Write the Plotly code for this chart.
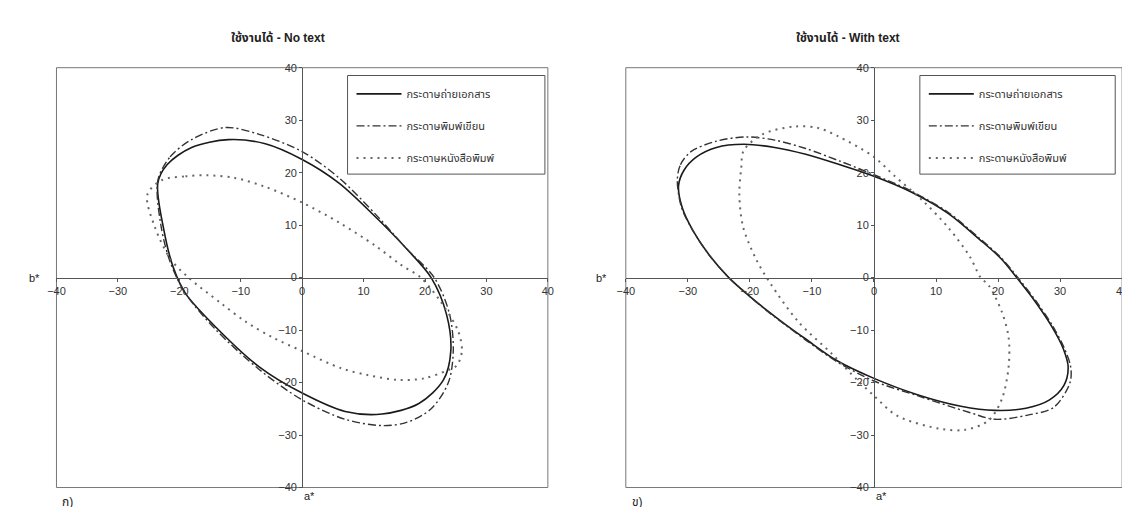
import plotly.graph_objects as go

# ---------------- data (a*, b*) ----------------
series_names = ["กระดาษถ่ายเอกสาร", "กระดาษพิมพ์เขียน", "กระดาษหนังสือพิมพ์"]
panel_titles = ["ใช้งานได้ - No text", "ใช้งานได้ - With text"]
panel_tags = ["ก)", "ข)"]
tick_vals = [-40, -30, -20, -10, 0, 10, 20, 30, 40]

# Panel 1 - No text
nt_copy_a = [-23.5, -22, -18, -12, -6, 0, 6, 12, 17, 21, 23.5, 24.2, 23, 19, 13, 7, 0, -7, -14, -19, -21, -22.5, -23.5]
nt_copy_b = [18, 21.5, 24.8, 26.3, 25.5, 22.5, 18, 11.5, 5.5, 0, -7, -14, -19.5, -24, -26, -25.5, -22, -17, -9.5, -3, 2, 9, 18]
nt_write_a = [-23.5, -21.5, -18, -12.5, -7, 0, 6, 12, 17, 21.5, 24, 24.6, 23.8, 21, 17, 13, 7, 0, -7, -14, -19, -21.5, -23, -23.5]
nt_write_b = [18.5, 23, 26.3, 28.6, 27.3, 24, 19, 12, 5.5, 0, -7, -14, -20, -25, -27.6, -28.2, -27, -23.3, -17.5, -10, -3, 3, 10, 18.5]
nt_news_a = [-22.8, -19, -15.5, -11, -6, 0, 6, 12, 16, 19.3, 22.5, 25.4, 26, 25.2, 23.6, 19.8, 15.6, 10.8, 6.4, 0, -4.8, -9.2, -13.3, -18.5, -21.4, -24, -25.2, -22.8]
nt_news_b = [18.6, 19.3, 19.5, 19, 17.3, 14.3, 10.5, 6, 2.5, 0, -4.5, -10.2, -14, -16.7, -17.7, -19.2, -19.5, -18.6, -17.3, -14, -11.4, -8.4, -4.8, 0, 3.5, 9.7, 15.8, 18.6]

# Panel 2 - With text
wt_copy_a = [-31.5, -30.6, -28.6, -25.4, -21, -16, -11, -5.5, 0, 6, 12, 17, 20.5, 23, 26, 28.6, 30.5, 31.3, 30.6, 28.3, 24.5, 19.5, 14, 7, 0, -6, -11, -14.3, -17.4, -20.5, -23.4, -26.5, -29.2, -30.9, -31.5]
wt_copy_b = [17.5, 20.5, 23, 24.8, 25.4, 24.8, 23.5, 21.5, 19.3, 16.3, 12.2, 7.3, 3.6, 0, -4.6, -9.2, -13.5, -17, -20.6, -23.3, -24.9, -25.3, -24.5, -22.3, -19.2, -15.8, -11.7, -8.9, -6.1, -3.1, 0, 4.2, 9, 13.3, 17.5]
wt_write_a = [-31.7, -31.2, -29.5, -25.4, -20.6, -16, -11, -5.5, 0, 6, 12, 17, 20.5, 23.2, 26.2, 28.8, 30.7, 31.7, 31.6, 29, 24.8, 19.5, 15.4, 7, 0, -6, -11, -14.3, -17.4, -20.5, -23.4, -26.5, -29.2, -31, -31.7]
wt_write_b = [18.5, 21.5, 24, 26, 26.8, 26.2, 24.6, 22.2, 19.6, 16.5, 12.4, 7.5, 3.8, 0, -4.6, -9.2, -13.5, -17, -20, -24.7, -26.2, -27, -25.7, -22.5, -19.7, -16, -11.9, -9, -6.2, -3.1, 0, 4.2, 9, 13.3, 18.5]
wt_news_a = [-21, -18, -12.7, -9, -5.9, 0, 3.2, 8, 12, 15.4, 17.2, 18.5, 20.6, 21.7, 21.7, 20.6, 18.5, 14.7, 10.6, 3.7, 0, -2.7, -6.8, -12.2, -16.7, -19, -21.1, -21.7, -21.4, -21]
wt_news_b = [24.2, 27.3, 28.8, 28.5, 27, 23, 19.5, 14.5, 9.5, 4.1, 0, -1.5, -6.5, -11.4, -17, -23.2, -27.2, -29, -28.8, -26.3, -22.5, -19.5, -14.5, -8.4, -1.1, 3.5, 9.7, 15.8, 20.8, 24.2]

panels = [
    [(nt_copy_a, nt_copy_b), (nt_write_a, nt_write_b), (nt_news_a, nt_news_b)],
    [(wt_copy_a, wt_copy_b), (wt_write_a, wt_write_b), (wt_news_a, wt_news_b)],
]

# ---------------- styling ----------------
W, H = 1130, 507
FONT = "Arial, 'Liberation Sans', 'Noto Sans Thai', 'Noto Sans', sans-serif"
line_styles = [
    dict(color="#1a1a1a", width=1.6, dash="solid"),
    dict(color="#333333", width=1.4, dash="8px,3px,2px,3px"),
    dict(color="#666666", width=2.0, dash="2px,5px"),
]
x_domains = [[40 / W, 538 / W], [617 / W, 1120 / W]]
y_domain = [1 - 485 / H, 1 - 55 / H]
y_mid = (y_domain[0] + y_domain[1]) / 2
legend_box_x = [(335, 535), (915, 1113)]
legend_box_y = (63, 164)
title_x = [265 / W, 842 / W]
bstar_x = [18 / W, 592 / W]

fig = go.Figure()
layout = dict(
    width=W, height=H, autosize=False,
    margin=dict(l=0, r=0, t=0, b=0),
    paper_bgcolor="white", plot_bgcolor="white",
    font=dict(family=FONT, size=11, color="#333333"),
    showlegend=True,
)
shapes, annotations = [], []

for p, panel in enumerate(panels):
    xa = "x" if p == 0 else "x2"
    ya = "y" if p == 0 else "y2"
    leg = "legend" if p == 0 else "legend2"
    for s, (a, b) in enumerate(panel):
        fig.add_trace(go.Scatter(
            x=a, y=b, mode="lines", name=series_names[s],
            line=dict(shape="spline", smoothing=0.9, **line_styles[s]),
            xaxis=xa, yaxis=ya, legend=leg, legendgroup=f"g{p}{s}",
            hoverinfo="skip",
        ))
    x_mid = (x_domains[p][0] + x_domains[p][1]) / 2
    axis_common = dict(
        range=[-40, 40], tickvals=tick_vals, showgrid=False, zeroline=False,
        showline=True, linecolor="#555555", linewidth=1,
        ticks="outside", ticklen=3, tickcolor="#555555",
        tickfont=dict(size=11, color="#333333"), anchor="free", fixedrange=True,
    )
    layout["xaxis" if p == 0 else "xaxis2"] = dict(
        domain=x_domains[p], position=y_mid, side="bottom", **axis_common)
    layout["yaxis" if p == 0 else "yaxis2"] = dict(
        domain=y_domain, position=x_mid, side="left", **axis_common)
    bx0, bx1 = legend_box_x[p]
    layout[leg] = dict(
        x=(bx0 + 4) / W, y=1 - (legend_box_y[0] + 4) / H, xanchor="left", yanchor="top",
        bgcolor="rgba(0,0,0,0)", borderwidth=0,
        font=dict(size=11, color="#333333", family=FONT),
        tracegroupgap=13, traceorder="grouped", itemwidth=45,
    )
    shapes.append(dict(type="rect", xref=f"{xa} domain", yref=f"{ya} domain",
                       x0=0, x1=1, y0=0, y1=1,
                       line=dict(color="#777777", width=1), layer="below"))
    shapes.append(dict(type="rect", xref="paper", yref="paper",
                       x0=bx0 / W, x1=bx1 / W,
                       y0=1 - legend_box_y[1] / H, y1=1 - legend_box_y[0] / H,
                       fillcolor="white", line=dict(color="#555555", width=1), layer="above"))
    annotations.append(dict(text=f"<b>{panel_titles[p]}</b>", xref="paper", yref="paper",
                            x=title_x[p], y=1 - 25 / H, showarrow=False,
                            font=dict(size=12, color="#222222"),
                            xanchor="center", yanchor="middle"))
    annotations.append(dict(text="b*", xref="paper", yref=ya,
                            x=bstar_x[p], y=0, showarrow=False,
                            xanchor="center", yanchor="middle",
                            font=dict(size=11, color="#222222")))
    annotations.append(dict(text="a*", xref=xa, yref="paper",
                            x=0, y=1 - 494 / H, showarrow=False,
                            xanchor="left", yanchor="middle", xshift=0,
                            font=dict(size=11, color="#222222")))
    annotations.append(dict(text=panel_tags[p], xref="paper", yref="paper",
                            x=x_domains[p][0] + 4 / W, y=1 - 500 / H, showarrow=False,
                            xanchor="left", yanchor="middle",
                            font=dict(size=12, color="#222222")))

layout["shapes"] = shapes
layout["annotations"] = annotations
fig.update_layout(**layout)
fig.write_html("out.html")
